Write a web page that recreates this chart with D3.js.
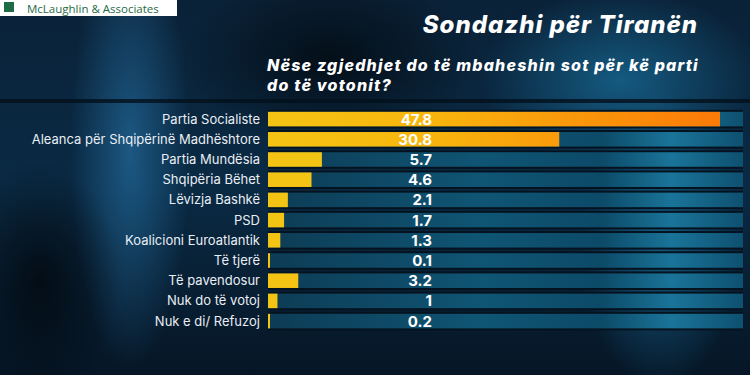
<!DOCTYPE html>
<html>
<head>
  <meta charset="utf-8" />
  <title>Sondazhi për Tiranën</title>
  <style>
    body { margin: 0; background: #06121f; }
    #chartArea { width: 750px; height: 375px; }
    .label { font-family: Inter, "Open Sans", sans-serif; font-size: 13px; fill: #e8eef4; }
    .value { font-family: Inter, "Open Sans", sans-serif; font-size: 15px; font-weight: 700; fill: #ffffff; }
    .title { font-family: Inter, "Open Sans", sans-serif; font-weight: 800; font-style: italic; fill: #ffffff; }
  </style>
  <script src="https://cdnjs.cloudflare.com/ajax/libs/d3/7.8.5/d3.min.js"></script>
</head>
<body>
  <div id="chartArea"></div>
  <script>
    var categories = ['Partia Socialiste', 'Aleanca për Shqipërinë Madhështore', 'Partia Mundësia',
      'Shqipëria Bëhet', 'Lëvizja Bashkë', 'PSD', 'Koalicioni Euroatlantik', 'Të tjerë',
      'Të pavendosur', 'Nuk do të votoj', 'Nuk e di/ Refuzoj'];
    var values = [47.8, 30.8, 5.7, 4.6, 2.1, 1.7, 1.3, 0.1, 3.2, 1, 0.2];
    var valueLabels = ['47.8', '30.8', '5.7', '4.6', '2.1', '1.7', '1.3', '0.1', '3.2', '1', '0.2'];

    var W = 750, H = 375;
    var margin = { top: 109, left: 268, right: 7 };

    var svg = d3.select('#chartArea').append('svg')
      .attr('width', W)
      .attr('height', H);

    var defs = svg.append('defs');

    // background glows
    var bg = defs.append('linearGradient').attr('id', 'bg').attr('x1', 0).attr('x2', 0).attr('y1', 0).attr('y2', 1);
    bg.append('stop').attr('offset', 0).attr('stop-color', '#0a2238');
    bg.append('stop').attr('offset', 0.5).attr('stop-color', '#0a2a44');
    bg.append('stop').attr('offset', 1).attr('stop-color', '#061626');

    function glow(id, color, op) {
      var g = defs.append('radialGradient').attr('id', id);
      g.append('stop').attr('offset', 0).attr('stop-color', color).attr('stop-opacity', op);
      g.append('stop').attr('offset', 1).attr('stop-color', color).attr('stop-opacity', 0);
    }
    glow('g1', '#2a7fb8', 0.55);
    glow('g2', '#1f8fc4', 0.5);
    glow('g3', '#000000', 0.6);

    svg.append('rect').attr('width', W).attr('height', H).attr('fill', 'url(#bg)');
    svg.append('ellipse').attr('cx', 130).attr('cy', 150).attr('rx', 60).attr('ry', 220).attr('fill', 'url(#g1)');
    svg.append('ellipse').attr('cx', 620).attr('cy', 80).attr('rx', 140).attr('ry', 90).attr('fill', 'url(#g2)');
    svg.append('ellipse').attr('cx', 660).attr('cy', 240).attr('rx', 80).attr('ry', 150).attr('fill', 'url(#g2)');
    svg.append('ellipse').attr('cx', 330).attr('cy', 60).attr('rx', 150).attr('ry', 90).attr('fill', 'url(#g3)');
    svg.append('ellipse').attr('cx', 40).attr('cy', 280).attr('rx', 80).attr('ry', 120).attr('fill', 'url(#g3)');

    // logo
    svg.append('rect').attr('x', 0).attr('y', -2).attr('width', 177).attr('height', 18).attr('fill', '#ffffff');
    svg.append('rect').attr('x', 4).attr('y', 2).attr('width', 10).attr('height', 10).attr('fill', '#1f6b45');
    svg.append('text').attr('x', 27).attr('y', 12.5)
      .style('font-family', '"Open Sans", sans-serif').style('font-size', '11.5px').attr('fill', '#1f6b45')
      .text('McLaughlin & Associates');

    // titles
    svg.append('text').attr('class', 'title').attr('x', 698).attr('y', 33)
      .attr('text-anchor', 'end').style('font-size', '24px').style('letter-spacing', '1px').text('Sondazhi për Tiranën');
    svg.append('text').attr('class', 'title').attr('x', 267).attr('y', 71)
      .style('font-size', '16px').style('letter-spacing', '1.2px').text('Nëse zgjedhjet do të mbaheshin sot për kë parti');
    svg.append('text').attr('class', 'title').attr('x', 267).attr('y', 91)
      .style('font-size', '16px').style('letter-spacing', '1.2px').text('do të votonit?');

    // scales
    var x = d3.scaleLinear().domain([0, 47.8]).range([margin.left, 720]);
    var y = d3.scaleBand().domain(categories).range([margin.top, margin.top + 20.2 * categories.length]).paddingInner(0.28).paddingOuter(0.14);

    var barGrad = defs.append('linearGradient').attr('id', 'barGrad')
      .attr('gradientUnits', 'userSpaceOnUse').attr('x1', x(0)).attr('x2', x(47.8)).attr('y1', 0).attr('y2', 0);
    barGrad.append('stop').attr('offset', 0).attr('stop-color', '#f4c414');
    barGrad.append('stop').attr('offset', 0.35).attr('stop-color', '#f8b60d');
    barGrad.append('stop').attr('offset', 1).attr('stop-color', '#fb7a08');

    var trackGrad = defs.append('linearGradient').attr('id', 'trackGrad').attr('x1', 0).attr('x2', 1);
    trackGrad.append('stop').attr('offset', 0).attr('stop-color', '#0d3c55');
    trackGrad.append('stop').attr('offset', 0.45).attr('stop-color', '#0f5574');
    trackGrad.append('stop').attr('offset', 0.7).attr('stop-color', '#0c4a68');
    trackGrad.append('stop').attr('offset', 0.85).attr('stop-color', '#1a7499');
    trackGrad.append('stop').attr('offset', 1).attr('stop-color', '#0e5070');

    // dark band behind chart
    svg.append('rect').attr('x', 0).attr('y', margin.top - 10).attr('width', W).attr('height', 4).attr('fill', '#03101c').attr('opacity', 0.8);

    var rows = svg.append('g').selectAll('g').data(categories).enter().append('g');

    rows.append('rect')
      .attr('x', x(0))
      .attr('y', d => y(d) - 2)
      .attr('width', 743 - x(0))
      .attr('height', y.bandwidth() + 4)
      .attr('fill', '#04131f');

    rows.append('rect')
      .attr('x', x(0))
      .attr('y', d => y(d))
      .attr('width', 743 - x(0))
      .attr('height', y.bandwidth())
      .attr('fill', 'url(#trackGrad)');

    rows.append('rect')
      .attr('x', x(0))
      .attr('y', d => y(d))
      .attr('width', (d, i) => Math.max(2, x(values[i]) - x(0)))
      .attr('height', y.bandwidth())
      .attr('fill', (d, i) => values[i] > 10 ? 'url(#barGrad)' : '#f4c414');

    rows.append('text')
      .attr('class', 'label')
      .attr('x', x(0) - 8)
      .attr('y', d => y(d) + y.bandwidth() / 2)
      .attr('dy', '0.35em')
      .attr('text-anchor', 'end')
      .text(d => d);

    rows.append('text')
      .attr('class', 'value')
      .attr('x', 432)
      .attr('y', d => y(d) + y.bandwidth() / 2)
      .attr('dy', '0.36em')
      .attr('text-anchor', 'end')
      .text((d, i) => valueLabels[i]);
  </script>
</body>
</html>
